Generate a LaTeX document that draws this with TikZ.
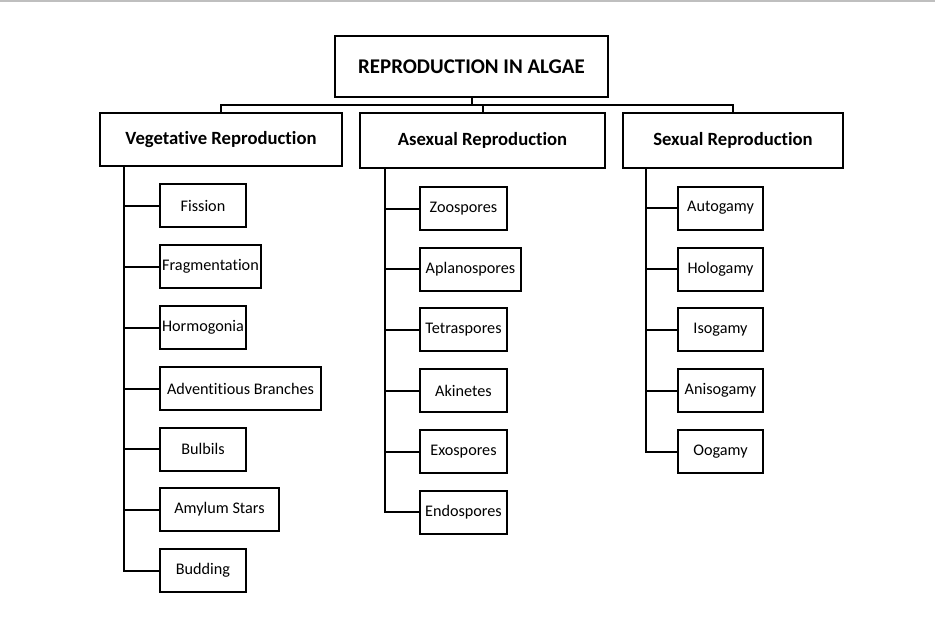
\documentclass[tikz,border=0pt]{standalone}
\usepackage{fontspec}
\setmainfont{Carlito}[Ligatures=NoCommon]
\begin{document}
\begin{tikzpicture}[x=1pt,y=-1pt,
  ln/.style={line width=2pt,black},
  box/.style={draw,line width=2pt,inner sep=0pt,align=center},
  leaf/.style={box,font=\fontsize{16.2}{18}\selectfont,minimum height=43pt},
  head/.style={box,font=\bfseries\fontsize{18.67}{20}\selectfont,minimum height=55pt},
]
\useasboundingbox (0,0) rectangle (935,627);
\fill[black!25] (0,0) rectangle (935,2);
% root and heads
\node[box,font=\bfseries\fontsize{20.9}{22}\selectfont,minimum width=273pt,minimum height=61pt] (root) at (471.5,66.5) {REPRODUCTION IN ALGAE};
\node[head,minimum width=242pt,minimum height=53pt] (veg) at (221,139.5) {Vegetative Reproduction};
\node[head,minimum width=245pt] (asex) at (482.5,140.5) {Asexual Reproduction};
\node[head,minimum width=220pt] (sex) at (733,140.5) {Sexual Reproduction};
\coordinate (bus) at (0,105);
\draw[ln] (root.south) -- (root.south |- bus);
\draw[ln] (veg.north) -- (veg.north |- bus) -- (sex.north |- bus) -- (sex.north);
\draw[ln] (asex.north) -- (asex.north |- bus);
% vegetative leaves
\node[leaf,minimum width=86pt] (fis) at (203,205.5) {Fission};
\node[leaf,minimum width=101pt] (fra) at (210.5,266.5) {Fragmentation};
\node[leaf,minimum width=86pt] (hor) at (203,327.5) {Hormogonia};
\node[leaf,minimum width=161pt] (adv) at (240.5,388.5) {Adventitious Branches};
\node[leaf,minimum width=86pt] (bul) at (203,449) {Bulbils};
\node[leaf,minimum width=119pt] (amy) at (219.5,509.5) {Amylum Stars};
\node[leaf,minimum width=86pt] (bud) at (203,570.5) {Budding};
\coordinate (vs) at (124,0);
\draw[ln] (vs |- veg.south) |- (bud.west);
\foreach \n in {fis,fra,hor,adv,bul,amy} \draw[ln] (vs |- \n.west) -- (\n.west);
% asexual leaves
\node[leaf,minimum width=87pt] (zoo) at (463.5,208.5) {Zoospores};
\node[leaf,minimum width=101pt] (apl) at (470.5,269) {Aplanospores};
\node[leaf,minimum width=87pt] (tet) at (463.5,329.5) {Tetraspores};
\node[leaf,minimum width=87pt] (aki) at (463.5,390.5) {Akinetes};
\node[leaf,minimum width=87pt] (exo) at (463.5,451.5) {Exospores};
\node[leaf,minimum width=87pt] (endo) at (463.5,512) {Endospores};
\coordinate (as) at (385,0);
\draw[ln] (as |- asex.south) |- (endo.west);
\foreach \n in {zoo,apl,tet,aki,exo} \draw[ln] (as |- \n.west) -- (\n.west);
% sexual leaves
\node[leaf,minimum width=85pt] (aut) at (720.5,208) {Autogamy};
\node[leaf,minimum width=85pt] (hol) at (720.5,269) {Hologamy};
\node[leaf,minimum width=85pt] (iso) at (720.5,329.5) {Isogamy};
\node[leaf,minimum width=85pt] (ani) at (720.5,390.5) {Anisogamy};
\node[leaf,minimum width=85pt] (oog) at (720.5,451.5) {Oogamy};
\coordinate (ss) at (646,0);
\draw[ln] (ss |- sex.south) |- (oog.west);
\foreach \n in {aut,hol,iso,ani} \draw[ln] (ss |- \n.west) -- (\n.west);
\end{tikzpicture}
\end{document}
